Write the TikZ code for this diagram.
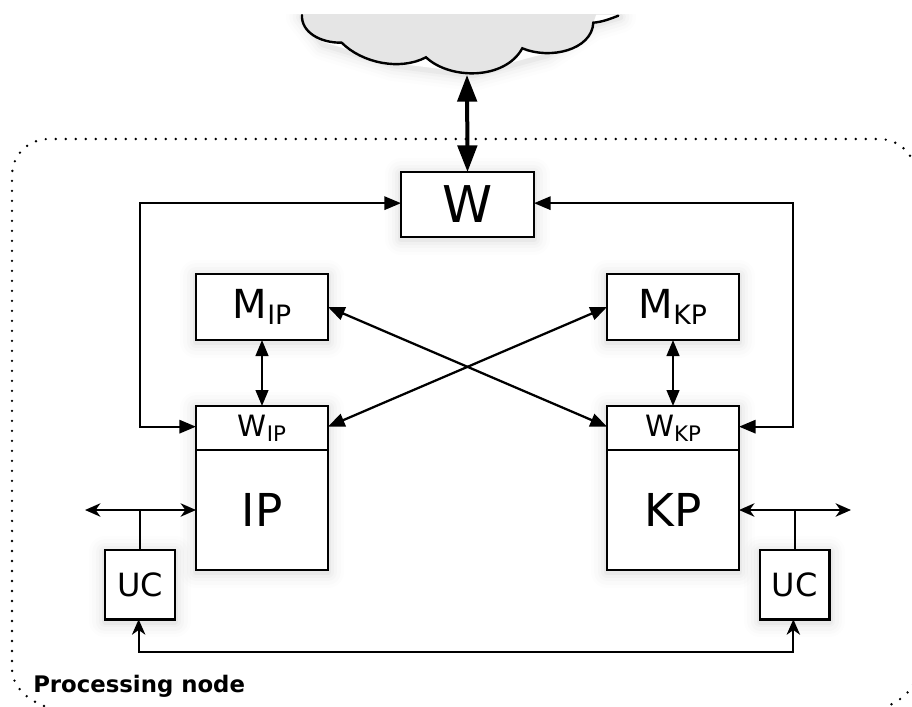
\documentclass[tikz,border=0pt]{standalone}
\usepackage{fontspec}
\setmainfont{DejaVu Sans}
\usetikzlibrary{arrows.meta,calc}
\tikzset{
  softshadow/.style={
    preaction={draw=black,line join=round,line width=24pt,draw opacity=.008,fill=none,transform canvas={yshift=-1.5pt}},
    preaction={draw=black,line join=round,line width=19pt,draw opacity=.011,fill=none,transform canvas={yshift=-1.5pt}},
    preaction={draw=black,line join=round,line width=14pt,draw opacity=.014,fill=none,transform canvas={yshift=-1.5pt}},
    preaction={draw=black,line join=round,line width=9pt,draw opacity=.02,fill=none,transform canvas={yshift=-1.5pt}},
    preaction={draw=black,line join=round,line width=5pt,draw opacity=.03,fill=none,transform canvas={yshift=-1.5pt}}},
  boxnode/.style={draw=black,fill=white,line width=1.8pt,inner sep=0pt,outer sep=0pt,softshadow,anchor=north west},
  innerbox/.style={draw=black,line width=1.8pt,inner sep=0pt,outer sep=0pt,anchor=north west,minimum width=99pt,minimum height=33pt},
  conn/.style={line width=1.7pt},
  bothlatex/.style={conn,{Triangle[length=12.5pt,width=10pt]}-{Triangle[length=12.5pt,width=10pt]}},
  midlatex/.style={conn,{Triangle[length=12pt,width=9.5pt]}-{Triangle[length=12pt,width=9.5pt]}},
  fatlatex/.style={line width=3pt,{Triangle[length=20pt,width=14.5pt]}-{Triangle[length=20pt,width=14.5pt]}},
  bothstealth/.style={conn,{Stealth[length=11.5pt,width=10pt,inset=3.5pt]}-{Stealth[length=11.5pt,width=10pt,inset=3.5pt]}},
  plainstub/.style={conn},
  frameline/.style={line width=2pt,line cap=round,dash pattern=on 0pt off 7.5pt},
}
\begin{document}
\begin{tikzpicture}[x=0.75pt,y=-0.75pt]
\useasboundingbox (0,0) rectangle (912,706);
\clip (0,0) rectangle (912,706);
% frame
\draw[frameline] (44,706) .. controls (26,699) and (12,686) .. (12,668)
  -- (12,176) .. controls (12,155) and (28,139) .. (49,139)
  -- (879,139) .. controls (899,139) and (916,155) .. (916,176)
  -- (916,672) .. controls (916,688) and (903,699) .. (888,706);
% cloud
\begin{scope}
\clip (0,15) rectangle (912,706);
\path[softshadow,fill=white] (302,15) -- (620,15) -- (593,23) -- (547,53) -- (473,73) -- (393,63) -- (323,42) -- cycle;
\fill[fill=black!10] (302,10) .. controls (302,32) and (320,43) .. (341.7,42.7)
  .. controls (362,63) and (400,71) .. (426,57.3)
  .. controls (450,80) and (505,80) .. (522.3,48.3)
  .. controls (550,60) and (592,50) .. (593.3,22.7)
  -- (596,15) -- (596,10) -- cycle;
\draw[line width=1.8pt,line cap=round] (302,15) .. controls (301,32) and (320,43) .. (341.7,42.7)
  .. controls (362,63) and (400,71) .. (426,57.3)
  .. controls (450,80) and (505,80) .. (522.3,48.3)
  .. controls (550,60) and (592,50) .. (593.3,22.7)
  .. controls (602,22) and (610,19) .. (618.3,15.7);
\end{scope}
\coordinate (cloudb) at (467,75);
% nodes
\node[boxnode,minimum width=99.75pt,minimum height=48.75pt,font=\fontsize{38}{38}\selectfont] (W) at (401,172) {W};
\node[boxnode,minimum width=99pt,minimum height=49.5pt] (MIP) at (196,274) {\fontsize{30}{30}\selectfont M\raisebox{-5pt}{\fontsize{20}{20}\selectfont IP}};
\node[boxnode,minimum width=99pt,minimum height=49.5pt] (MKP) at (607,274) {\fontsize{30}{30}\selectfont M\raisebox{-5pt}{\fontsize{20}{20}\selectfont KP}};
\node[boxnode,minimum width=99pt,minimum height=123pt] (IPB) at (196,406) {};
\node[boxnode,minimum width=99pt,minimum height=123pt] (KPB) at (607,406) {};
\node[innerbox] (WIP) at (196,406) {\fontsize{22}{22}\selectfont W\raisebox{-4pt}{\fontsize{16}{16}\selectfont IP}};
\node[innerbox] (WKP) at (607,406) {\fontsize{22}{22}\selectfont W\raisebox{-4pt}{\fontsize{16}{16}\selectfont KP}};
\node[font=\fontsize{34}{34}\selectfont,inner sep=0pt] (IP) at (262,510) {IP};
\node[font=\fontsize{34}{34}\selectfont,inner sep=0pt] (KP) at (673,510) {KP};
\node[boxnode,minimum width=52.5pt,minimum height=52pt,font=\fontsize{24}{24}\selectfont] (UCL) at (105,550) {UC};
\node[boxnode,minimum width=52pt,minimum height=52pt,font=\fontsize{24}{24}\selectfont] (UCR) at (760,550) {UC};
\node[font=\fontsize{17.1}{17.1}\selectfont\bfseries,inner sep=0pt,anchor=west] (PN) at (33,686) {Processing node};
% connectors
\coordinate (wl) at ([yshift=1pt]W.west);
\coordinate (wr) at ([yshift=1pt]W.east);
\coordinate (il) at ([yshift=1pt]WIP.west);
\coordinate (kr) at ([yshift=1pt]WKP.east);
\draw[fatlatex] (cloudb) -- (W.north);
\draw[bothlatex] (il) -| (140,300) |- (wl);
\draw[bothlatex] (kr) -| (793,300) |- (wr);
\draw[midlatex] (MIP.south) -- (MIP.south |- WIP.north);
\draw[midlatex] (MKP.south) -- (MKP.south |- WKP.north);
\draw[bothlatex] (MIP.east) -- ([yshift=1pt]WKP.west);
\draw[bothlatex] ([yshift=1pt]WIP.east) -- (MKP.west);
\coordinate (LL) at (85,510);
\coordinate (RR) at (851,510);
\coordinate (Lj) at (UCL.north |- LL);
\coordinate (Rj) at (UCR.north |- RR);
\draw[bothstealth] (LL) -- (IPB.west |- LL);
\draw[bothstealth] (KPB.east |- RR) -- (RR);
\draw[plainstub] (UCL.north) -- (Lj);
\draw[plainstub] (UCR.north) -- (Rj);
\draw[bothstealth] ([xshift=-1pt]UCL.south) -- ++(0,33) -| ([xshift=-1pt]UCR.south);
\end{tikzpicture}
\end{document}
